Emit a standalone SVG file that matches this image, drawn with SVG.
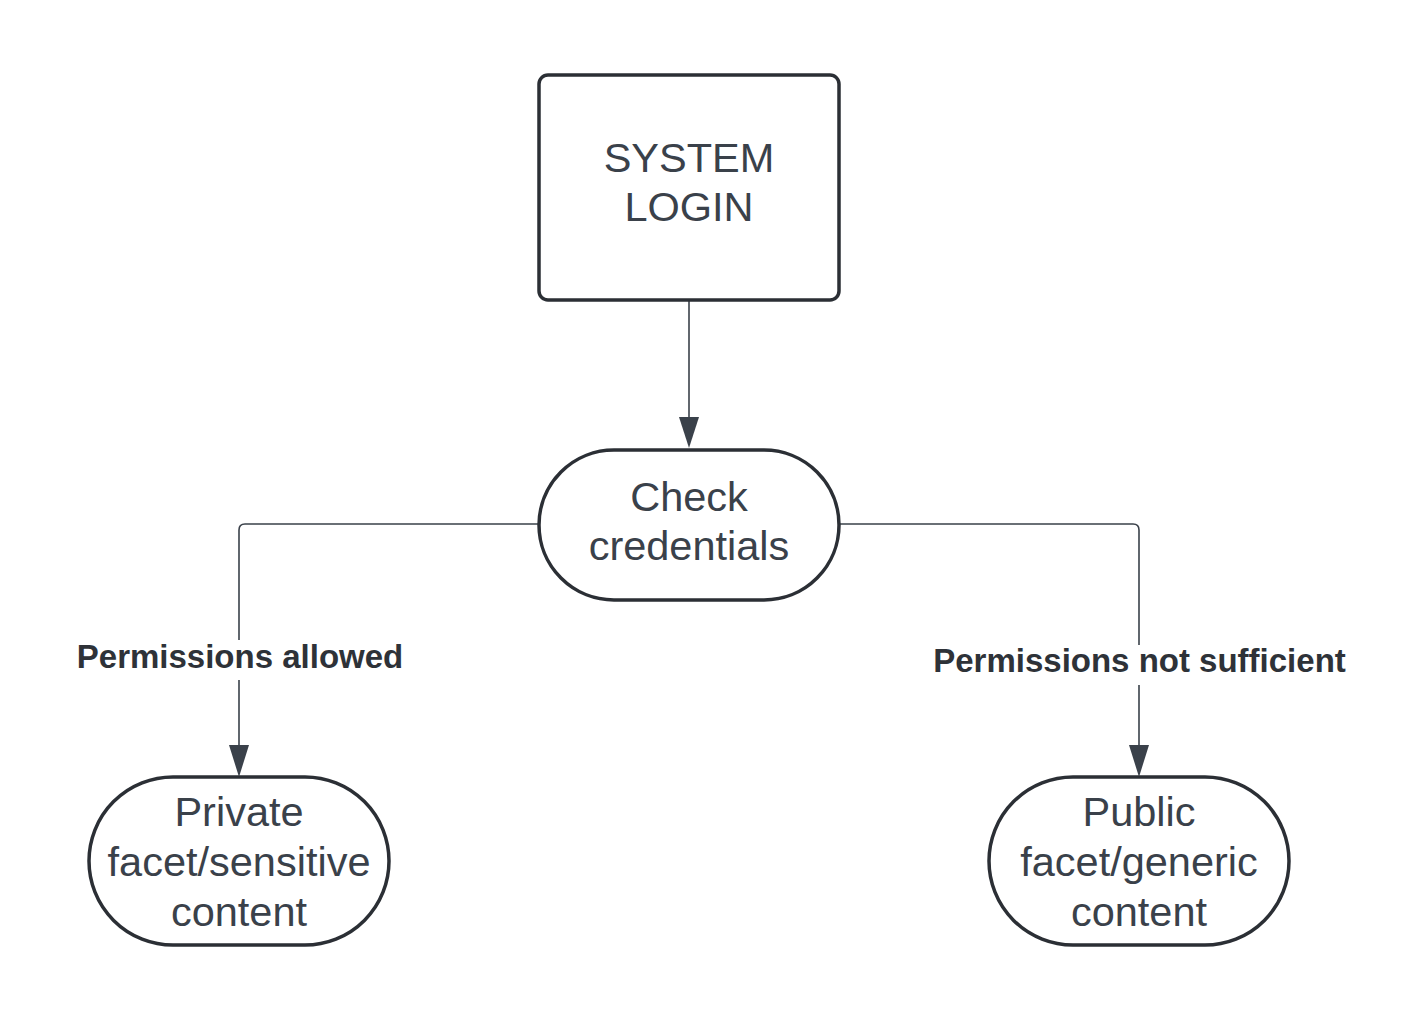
<svg xmlns="http://www.w3.org/2000/svg" width="1423" height="1022" viewBox="0 0 1423 1022">
<style>
.node{fill:#ffffff;stroke:#2b2f35;stroke-width:3.5}
.t{font-family:"Liberation Sans",Arial,sans-serif;font-size:41.5px;fill:#3a414a;text-anchor:middle}
.lbl{font-family:"Liberation Sans",Arial,sans-serif;font-size:33px;font-weight:bold;fill:#2e3238;text-anchor:middle}
.edge{fill:none;stroke:#3a414a;stroke-width:1.6}
</style>
<rect width="1423" height="1022" fill="#ffffff"/>
<g id="connectors">
<path class="edge" d="M689,300 L689,418"/>
<path d="M679,417 L699,417 L689,448 Z" fill="#3a414a"/>
<path class="edge" d="M539,524 L245,524 Q239,524 239,530 L239,746"/>
<path d="M229,745 L249,745 L239,777 Z" fill="#3a414a"/>
<path class="edge" d="M839,524 L1133,524 Q1139,524 1139,530 L1139,746"/>
<path d="M1129,745 L1149,745 L1139,777 Z" fill="#3a414a"/>
<rect x="70" y="640" width="340" height="40" fill="#ffffff"/>
<text class="lbl" x="240" y="668">Permissions allowed</text>
<rect x="925" y="645" width="430" height="40" fill="#ffffff"/>
<text class="lbl" x="1139.5" y="672">Permissions not sufficient</text>
</g>
<g id="system-login">
<rect class="node" x="539" y="75" width="300" height="225" rx="9"/>
<text class="t" x="689" y="172">SYSTEM</text>
<text class="t" x="689" y="221">LOGIN</text>
</g>
<g id="check-credentials">
<rect class="node" x="539" y="450" width="300" height="150" rx="75"/>
<text class="t" x="689" y="511">Check</text>
<text class="t" x="689" y="560">credentials</text>
</g>
<g id="private-content">
<rect class="node" x="89" y="777" width="300" height="168" rx="84"/>
<text class="t" x="239" y="826">Private</text>
<text class="t" x="239" y="876">facet/sensitive</text>
<text class="t" x="239" y="926">content</text>
</g>
<g id="public-content">
<rect class="node" x="989" y="777" width="300" height="168" rx="84"/>
<text class="t" x="1139" y="826">Public</text>
<text class="t" x="1139" y="876">facet/generic</text>
<text class="t" x="1139" y="926">content</text>
</g>
</svg>
